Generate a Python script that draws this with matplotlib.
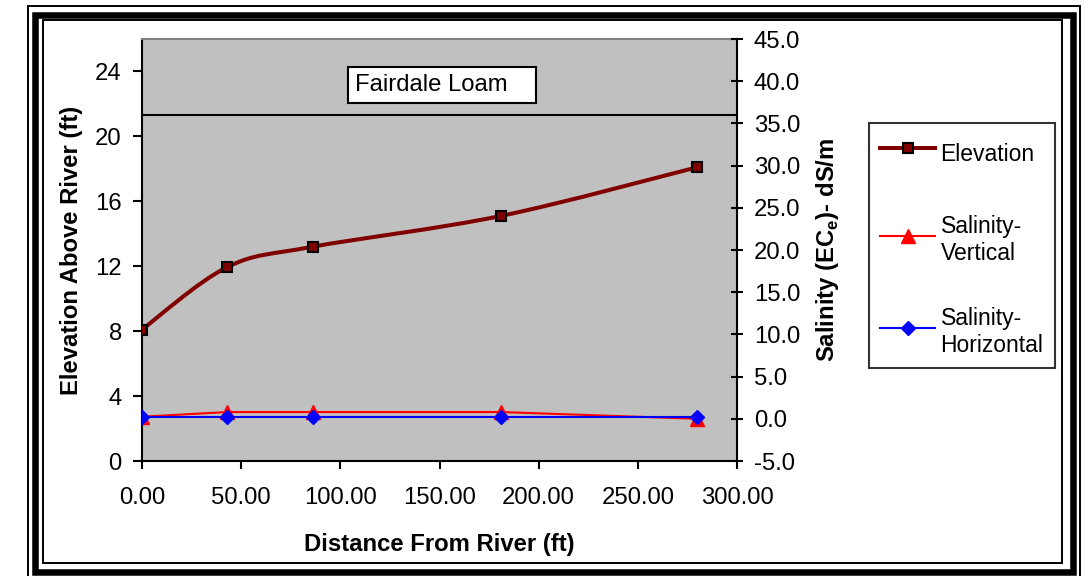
import numpy as np
import matplotlib
matplotlib.use("Agg")
import matplotlib.pyplot as plt
from matplotlib.path import Path
from matplotlib.patches import PathPatch, Rectangle
from matplotlib.lines import Line2D
from matplotlib.ticker import FormatStrFormatter

plt.rcParams['font.family'] = ['Liberation Sans', 'DejaVu Sans']
plt.rcParams['mathtext.fontset'] = 'custom'
plt.rcParams['mathtext.rm'] = 'Liberation Sans'
plt.rcParams['mathtext.bf'] = 'Liberation Sans:bold'

# data
distance = [0.0, 43.0, 86.0, 181.0, 280.0]
elevation = [8.1, 11.95, 13.2, 15.1, 18.1]
sal_vertical = [0.25, 0.8, 0.8, 0.8, 0.0]
sal_horizontal = [0.25, 0.25, 0.25, 0.25, 0.25]
soil_line = 36.0
soil_name = "Fairdale Loam"

x_ticks = [0, 50, 100, 150, 200, 250, 300]
left_ticks = [0, 4, 8, 12, 16, 20, 24]
right_ticks = [-5, 0, 5, 10, 15, 20, 25, 30, 35, 40, 45]

W, H = 1088, 576
FS = 17.2


def smooth_path(x, y):
    # excel style smoothed line (catmull-rom -> cubic bezier)
    pts = np.column_stack([x, y])
    n = len(pts)
    verts = [pts[0]]
    codes = [Path.MOVETO]
    for i in range(n - 1):
        p0 = pts[i - 1] if i > 0 else pts[i]
        p3 = pts[i + 2] if i + 2 < n else pts[i + 1]
        c1 = pts[i] + (pts[i + 1] - p0) / 6.0
        c2 = pts[i + 1] - (p3 - pts[i]) / 6.0
        verts += [c1, c2, pts[i + 1]]
        codes += [Path.CURVE4] * 3
    return Path(verts, codes)


fig = plt.figure(figsize=(W / 100, H / 100), dpi=100)
fig.patch.set_facecolor('white')

# frame around the chart
def frame(x0, y0, x1, y1, lw):
    fig.patches.append(Rectangle((x0 / W, 1 - y1 / H), (x1 - x0) / W, (y1 - y0) / H,
                                 transform=fig.transFigure, fill=False,
                                 edgecolor='black', linewidth=lw))

frame(27.7, 6, 1080, 590, 1.4)
frame(35, 15, 1073.5, 571.5, 4.7)
frame(42.7, 19.5, 1062.3, 563.3, 1.4)

left, right, top, bottom = 142, 737, 39, 461
ax = fig.add_axes([left / W, 1 - bottom / H, (right - left) / W, (bottom - top) / H])
ax.set_facecolor('#C0C0C0')
ax2 = ax.twinx()

ax.set_xlim(0, 300)
ax.set_ylim(0, 26)
ax2.set_ylim(-5, 45)

# elevation
ax.add_patch(PathPatch(smooth_path(distance, elevation), fill=False,
                       edgecolor='#800000', linewidth=2.9, zorder=3))
ax.plot(distance, elevation, linestyle='none', marker='s', markersize=7,
        markerfacecolor='#800000', markeredgecolor='black', markeredgewidth=1.5,
        zorder=4)

# salinity
ax2.plot(distance, sal_vertical, color='#FF0000', linewidth=1.5, marker='^',
         markersize=10, markerfacecolor='#FF0000', markeredgecolor='#FF0000')
ax2.plot(distance, sal_horizontal, color='#0000FF', linewidth=1.5, marker='D',
         markersize=7, markerfacecolor='#0000FF', markeredgecolor='#0000FF')

ax2.axhline(soil_line, color='black', linewidth=1.5)

# soil text box
ax2.add_patch(Rectangle((0.3454, 0.8476), 0.3176, 0.0867, transform=ax2.transAxes,
                        facecolor='white', edgecolor='black', linewidth=1.5, zorder=5))
ax2.text(0.358, 0.891, soil_name, transform=ax2.transAxes, fontsize=FS,
         ha='left', va='center', zorder=6)

# ticks
ax.set_xticks(x_ticks)
ax.xaxis.set_major_formatter(FormatStrFormatter('%.2f'))
ax.set_yticks(left_ticks)
ax2.set_yticks(right_ticks)
ax2.yaxis.set_major_formatter(FormatStrFormatter('%.1f'))

ax.tick_params(axis='x', direction='out', length=6, width=1.5, labelsize=FS, pad=13)
ax.tick_params(axis='y', direction='out', length=6.5, width=1.5, labelsize=FS, pad=8)
ax2.tick_params(axis='y', direction='inout', length=8, width=1.5, labelsize=FS, pad=8)

for s in ['left', 'bottom']:
    ax.spines[s].set_linewidth(1.5)
    ax.spines[s].set_color('black')
ax.spines['top'].set_color('#808080')
ax.spines['top'].set_linewidth(1.5)
ax.spines['right'].set_visible(False)
for s in ['left', 'bottom', 'top']:
    ax2.spines[s].set_visible(False)
ax2.spines['right'].set_linewidth(1.5)

# axis titles
ax.set_xlabel('Distance From River (ft)', fontsize=FS, fontweight='bold')
ax.xaxis.label.set_va('center')
ax.xaxis.set_label_coords(0.5, (bottom - 544) / (bottom - top))
ax.set_ylabel('Elevation Above River (ft)', fontsize=FS, fontweight='bold')
ax.yaxis.label.set_va('center')
ax.yaxis.set_label_coords((71.7 - left) / (right - left), 0.5)
ax2.set_ylabel(r'Salinity (EC$_\mathbf{e}$)- dS/m', fontsize=FS, fontweight='bold')
ax2.yaxis.label.set_va('center')
ax2.yaxis.set_label_coords((828 - left) / (right - left), 0.5)

# legend
handles = [
    Line2D([], [], color='#800000', linewidth=2.9, marker='s', markersize=7,
           markerfacecolor='#800000', markeredgecolor='black', markeredgewidth=1.5),
    Line2D([], [], color='#FF0000', linewidth=1.5, marker='^', markersize=10,
           markerfacecolor='#FF0000', markeredgecolor='#FF0000'),
    Line2D([], [], color='#0000FF', linewidth=1.5, marker='D', markersize=7,
           markerfacecolor='#0000FF', markeredgecolor='#0000FF'),
]
labels = ['Elevation', 'Salinity-\nVertical', 'Salinity-\nHorizontal']
leg = fig.legend(handles, labels, loc='upper left',
                 bbox_to_anchor=(869 / W, 1 - 123 / H), bbox_transform=fig.transFigure,
                 fontsize=16.5, frameon=True, fancybox=False, shadow=False,
                 handlelength=2.4, handleheight=2.2, handletextpad=0.22,
                 borderpad=0.5, labelspacing=1.85, borderaxespad=0)
leg.get_frame().set_edgecolor('black')
leg.get_frame().set_linewidth(1.5)

fig.savefig('out.png', dpi=100)
